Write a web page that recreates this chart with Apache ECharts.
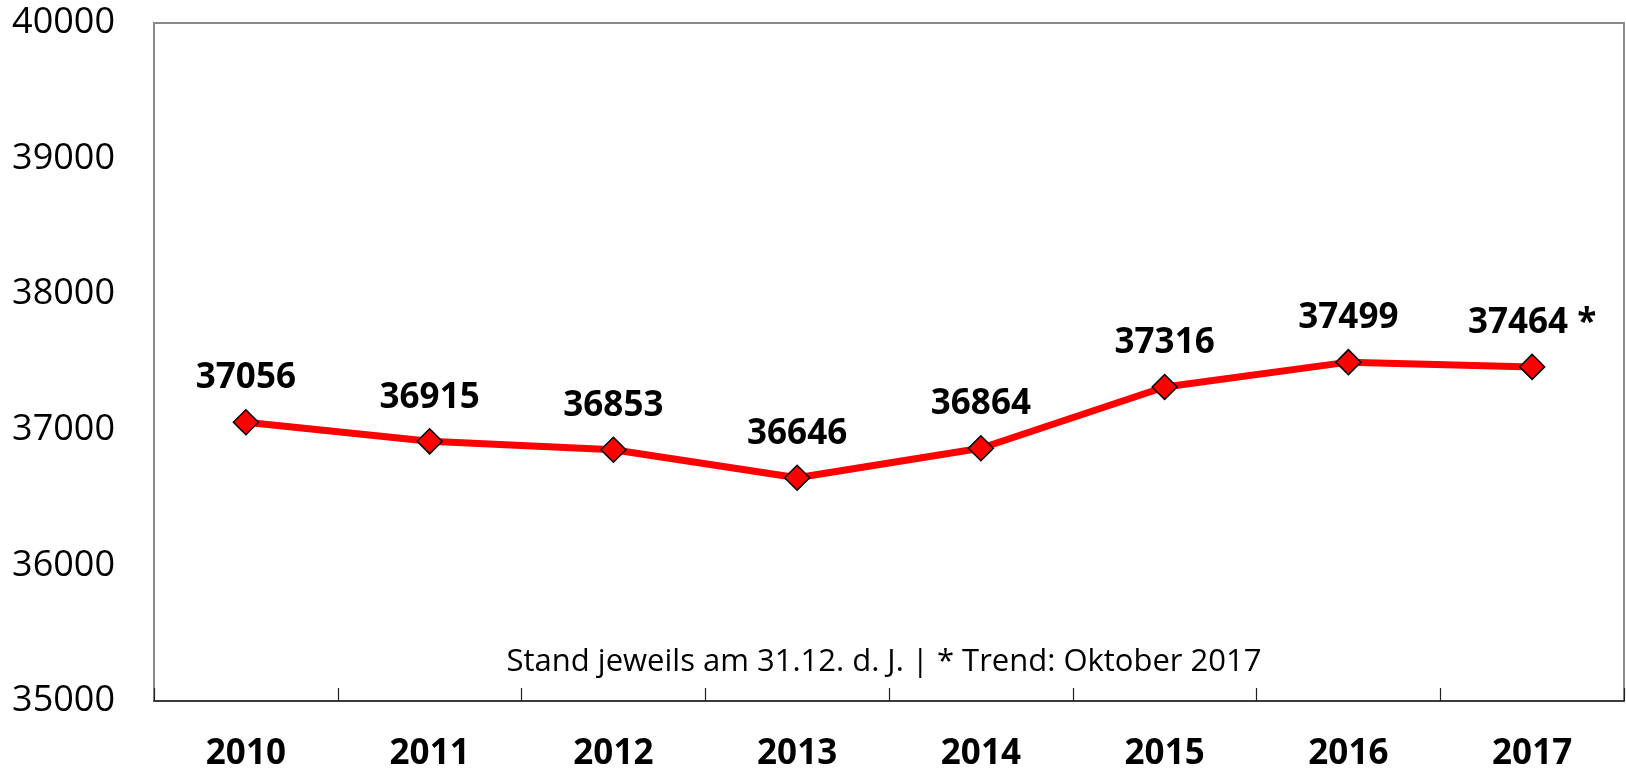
<!DOCTYPE html>
<html>
<head>
<meta charset="utf-8">
<script src="https://cdn.jsdelivr.net/npm/echarts@6/dist/echarts.min.js"></script>
<style>
  html, body { margin: 0; padding: 0; background: #fff; }
  #chart { width: 1626px; height: 773px; }
</style>
</head>
<body>
<div id="chart"></div>
<script>
// Daten
const years = ['2010', '2011', '2012', '2013', '2014', '2015', '2016', '2017']
const values = [37056, 36915, 36853, 36646, 36864, 37316, 37499, 37464]
const labelSuffix = ['', '', '', '', '', '', '', ' *']
const footnote = 'Stand jeweils am 31.12. d. J. | * Trend: Oktober 2017'

const myChart = echarts.init(document.getElementById('chart'))

const option = {
  animation: false,
  textStyle: { fontFamily: 'Open Sans' },
  grid: {
    left: 154,
    right: 2,
    top: 23,
    bottom: 72,
    show: true,
    borderColor: '#8a8a8a',
    borderWidth: 2
  },
  xAxis: {
    type: 'category',
    data: years,
    boundaryGap: true,
    axisLine: { lineStyle: { color: '#222', width: 1.5 } },
    axisTick: {
      show: true,
      interval: 0,
      inside: true,
      length: 13,
      lineStyle: { color: '#222', width: 1.2 }
    },
    axisLabel: {
      color: '#000',
      fontSize: 35,
      fontWeight: 'bold',
      margin: 36
    },
    z: 10
  },
  yAxis: {
    type: 'value',
    min: 35000,
    max: 40000,
    interval: 1000,
    splitLine: { show: false },
    axisLine: { show: true, lineStyle: { color: '#8a8a8a', width: 2 } },
    axisTick: { show: false },
    axisLabel: {
      color: '#000',
      fontSize: 36,
      margin: 39,
      formatter: (v) => String(v)
    }
  },
  series: [
    {
      type: 'line',
      data: values,
      symbol: 'diamond',
      symbolSize: 25,
      lineStyle: { color: '#ff0000', width: 7 },
      itemStyle: { color: '#ff0000', borderColor: '#000', borderWidth: 1.5 },
      label: {
        show: true,
        position: 'top',
        distance: 13,
        color: '#000',
        fontSize: 35,
        fontWeight: 'bold',
        formatter: (p) => p.value + labelSuffix[p.dataIndex]
      }
    }
  ],
  graphic: [
    {
      type: 'text',
      x: 884,
      y: 662,
      style: {
        text: footnote,
        fontFamily: 'Open Sans',
        fontSize: 31,
        fill: '#000',
        align: 'center',
        verticalAlign: 'middle'
      }
    }
  ]
}

myChart.setOption(option)
</script>
</body>
</html>
